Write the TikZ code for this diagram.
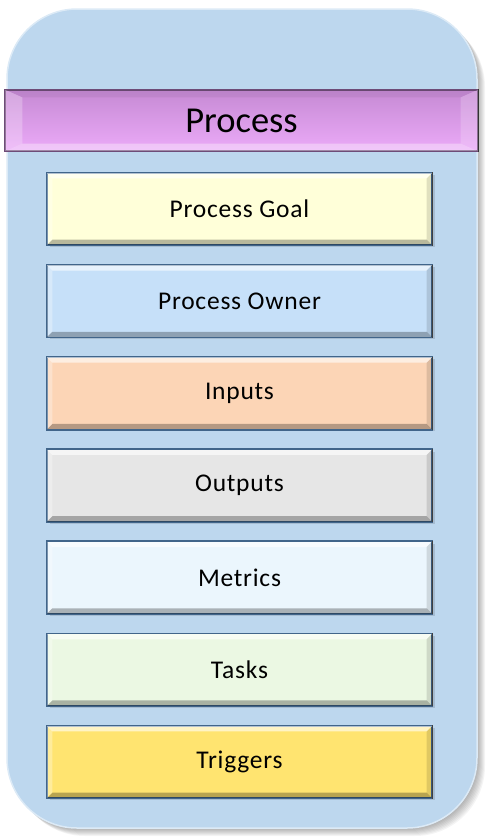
\documentclass[tikz,border=0pt]{standalone}
\usepackage{fontspec}
\setmainfont{Carlito}
\newfontfamily\boxfam[LetterSpace=3]{Carlito}
\newfontfamily\headfam{Carlito}
\usetikzlibrary{calc}
\definecolor{outerfill}{HTML}{BDD7EE}
\definecolor{outerline}{HTML}{DCEAF6}
\definecolor{boxline}{HTML}{41658A}
\definecolor{headtop}{HTML}{C68AD4}
\definecolor{headbot}{HTML}{EBAAF8}
\definecolor{headline}{HTML}{6E4C78}
\definecolor{cgoal}{HTML}{FFFFD9}
\definecolor{cowner}{HTML}{C6E0F9}
\definecolor{cinputs}{HTML}{FCD5B6}
\definecolor{coutputs}{HTML}{E6E6E6}
\definecolor{cmetrics}{HTML}{EBF6FD}
\definecolor{ctasks}{HTML}{EBF8E3}
\definecolor{ctriggers}{HTML}{FFE470}
\tikzset{
  pbox/.style={draw=boxline, line width=1.2pt, minimum width=385pt, minimum height=72pt,
    inner sep=0pt, text=black},
  btext/.style={font=\boxfam\fontsize{25.5}{30}\selectfont, text=black, inner sep=0pt},
}
\newcommand\bevelit[3]{%
  \fill[white,opacity=.6] (#1.north west) -- (#1.north east) -- ([shift={(-#2,#3)}]#1.north east) -- ([shift={(#2,#3)}]#1.north west) -- cycle;
  \fill[white,opacity=.3] (#1.north west) -- ([shift={(#2,#3)}]#1.north west) -- ([shift={(#2,-#3)}]#1.south west) -- (#1.south west) -- cycle;
  \fill[black,opacity=.12] (#1.north east) -- ([shift={(-#2,#3)}]#1.north east) -- ([shift={(-#2,-#3)}]#1.south east) -- (#1.south east) -- cycle;
  \fill[black,opacity=.28] (#1.south west) -- (#1.south east) -- ([shift={(-#2,-#3)}]#1.south east) -- ([shift={(#2,-#3)}]#1.south west) -- cycle;
}
\begin{document}
\begin{tikzpicture}[x=1pt,y=-1pt]
\useasboundingbox (0,0) rectangle (495,839);
% shadow of frame
\foreach \i in {1,2,...,8}{
  \fill[black,opacity=0.045,rounded corners=70pt] (7+\i,9+\i) rectangle (477+\i,828+\i);
}
\node[draw=outerline, line width=1.5pt, fill=outerfill, rounded corners=70pt,
  minimum width=470pt, minimum height=819pt, inner sep=0pt] (frame) at (242,418.5) {};
% header
\node[top color=headtop, bottom color=headbot, draw=headline, line width=1.2pt,
  minimum width=473pt, minimum height=61pt, inner sep=0pt] (head) at (241.5,120.5) {};
\fill[black,opacity=.05] (head.north west) -- (head.north east) -- ([shift={(-18,8)}]head.north east) -- ([shift={(18,8)}]head.north west) -- cycle;
\fill[white,opacity=.25] (head.north west) -- ([shift={(18,8)}]head.north west) -- ([shift={(18,-8)}]head.south west) -- (head.south west) -- cycle;
\fill[white,opacity=.2] (head.north east) -- ([shift={(-18,8)}]head.north east) -- ([shift={(-18,-8)}]head.south east) -- (head.south east) -- cycle;
\fill[white,opacity=.35] (head.south west) -- (head.south east) -- ([shift={(-18,-8)}]head.south east) -- ([shift={(18,-8)}]head.south west) -- cycle;
\draw[headline, line width=1.2pt] (head.north west) rectangle (head.south east);
\draw[black!80, line width=1.5pt] (head.north east) -- (head.south east);
\node[font=\headfam\fontsize{36.5}{42}\selectfont, inner sep=0pt] (headtext) at (head.center) {Process};
% boxes
\foreach \nm/\col/\txt [count=\k from 0] in {goal/cgoal/Process Goal, owner/cowner/Process Owner,
  inputs/cinputs/Inputs, outputs/coutputs/Outputs, metrics/cmetrics/Metrics,
  tasks/ctasks/Tasks, triggers/ctriggers/Triggers}{
  \fill[black,opacity=.12] (49.5,175+92.17*\k) rectangle (434.5,247+92.17*\k);
  \node[pbox, fill=\col] (\nm) at (239.5,209+92.17*\k) {};
  \bevelit{\nm}{6}{6}
  \draw[boxline, line width=1.2pt] (\nm.north west) rectangle (\nm.south east);
  \draw[black!75, line width=1.2pt] (\nm.north east) -- (\nm.south east);
  \node[btext] (\nm-t) at (\nm.center) {\txt};
}
\end{tikzpicture}
\end{document}
